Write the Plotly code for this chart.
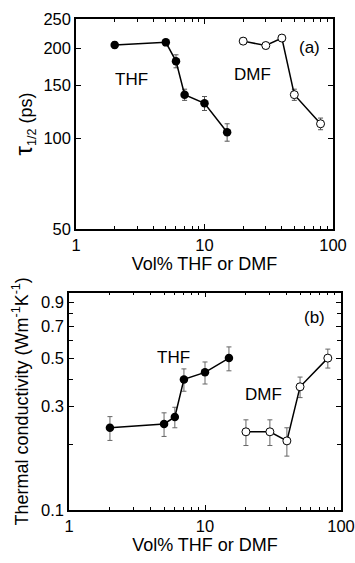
import plotly.graph_objects as go

# ---- data ----
thf_x = [2, 5, 6, 7, 10, 15]
thf_tau = [205, 209, 181, 140, 131, 105]
thf_tau_err = [5, 5, 9, 6, 7, 7]
dmf_x = [20, 30, 40, 50, 80]
dmf_tau = [211, 204, 216, 140, 112]
dmf_tau_err = [5, 5, 5, 6, 5]

thf_k = [0.239, 0.249, 0.268, 0.399, 0.43, 0.50]
thf_k_err = [0.03, 0.031, 0.029, 0.047, 0.05, 0.063]
dmf_k = [0.229, 0.229, 0.208, 0.369, 0.50]
dmf_k_err = [0.031, 0.031, 0.031, 0.04, 0.05]

x_ticks = [1, 10, 100]
x_minor = [2, 3, 4, 5, 6, 7, 8, 9, 20, 30, 40, 50, 60, 70, 80, 90]
tau_ticks = [50, 100, 150, 200, 250]
k_ticks = [0.1, 0.3, 0.5, 0.7, 0.9]
k_minor = [0.2, 0.4, 0.6, 0.8]

FONT = "Arial, Liberation Sans, sans-serif"
W, H = 355, 563

fig = go.Figure()

def err(vals, color="#555"):
    return dict(type="data", array=vals, visible=True, color=color, thickness=1, width=2.5)

filled = dict(color="black", size=8.5)
opened = dict(color="white", size=8, line=dict(color="black", width=1))
line = dict(color="black", width=1.5)

fig.add_trace(go.Scatter(x=thf_x, y=thf_tau, error_y=err(thf_tau_err), mode="lines+markers",
                         marker=filled, line=line, xaxis="x", yaxis="y", showlegend=False))
fig.add_trace(go.Scatter(x=dmf_x, y=dmf_tau, error_y=err(dmf_tau_err), mode="lines+markers",
                         marker=opened, line=line, xaxis="x", yaxis="y", showlegend=False))
fig.add_trace(go.Scatter(x=thf_x, y=thf_k, error_y=err(thf_k_err, "#666"), mode="lines+markers",
                         marker=filled, line=line, xaxis="x2", yaxis="y2", showlegend=False))
fig.add_trace(go.Scatter(x=dmf_x, y=dmf_k, error_y=err(dmf_k_err, "#666"), mode="lines+markers",
                         marker=opened, line=line, xaxis="x2", yaxis="y2", showlegend=False))

def px_x(p):
    return p / W

def px_y(p):
    return (H - p) / H

axis_common = dict(type="log", showline=True, linecolor="black", linewidth=1.5, mirror="ticks",
                   ticks="inside", ticklen=5, tickwidth=1, tickcolor="black", showgrid=False,
                   zeroline=False, automargin=False,
                   tickfont=dict(family=FONT, size=16.5, color="black"))

title_font = dict(family=FONT, size=18, color="black")

fig.update_layout(
    width=W, height=H,
    margin=dict(l=0, r=0, t=0, b=0),
    paper_bgcolor="white", plot_bgcolor="white",
    xaxis=dict(**axis_common, domain=[px_x(76), px_x(333)], range=[0, 2], anchor="y",
               tickmode="array", tickvals=x_ticks, ticktext=[str(v) for v in x_ticks],
               minor=dict(ticks="inside", ticklen=3, tickwidth=1, tickcolor="black",
                          tickmode="array", tickvals=x_minor),
               title=dict(text="Vol% THF or DMF", font=title_font, standoff=3)),
    yaxis=dict(**axis_common, domain=[px_y(229), px_y(19)], range=[1.69897, 2.39794], anchor="x",
               tickmode="array", tickvals=tau_ticks, ticktext=[str(v) for v in tau_ticks],
               title=dict(text="<span style='font-size:24px'>τ</span><sub>1/2</sub> (ps)",
                          font=title_font, standoff=6)),
    xaxis2=dict(**axis_common, domain=[px_x(69), px_x(341)], range=[0, 2], anchor="y2",
                tickmode="array", tickvals=x_ticks, ticktext=[str(v) for v in x_ticks],
                minor=dict(ticks="inside", ticklen=3, tickwidth=1, tickcolor="black",
                           tickmode="array", tickvals=x_minor),
                title=dict(text="Vol% THF or DMF", font=title_font, standoff=3)),
    yaxis2=dict(**axis_common, domain=[px_y(510), px_y(292.7)], range=[-1, 0], anchor="x2",
                tickmode="array", tickvals=k_ticks, ticktext=[str(v) for v in k_ticks],
                minor=dict(ticks="inside", ticklen=4, tickwidth=1, tickcolor="black",
                           tickmode="array", tickvals=k_minor),
                title=dict(text="Thermal conductivity (Wm<sup>-1</sup>K<sup>-1</sup>)",
                           font=title_font, standoff=8)),
)

ann_font = dict(family=FONT, size=17, color="black")
ann_common = dict(showarrow=False, font=ann_font, xanchor="center", yanchor="middle")
fig.add_annotation(text="THF", x=0.428, y=2.196, xref="x", yref="y", **ann_common)
fig.add_annotation(text="DMF", x=1.375, y=2.212, xref="x", yref="y", **ann_common)
fig.add_annotation(text="(a)", x=px_x(309.3), y=px_y(48), xref="paper", yref="paper", **ann_common)
fig.add_annotation(text="THF", x=0.765, y=-0.298, xref="x2", yref="y2", **ann_common)
fig.add_annotation(text="DMF", x=1.429, y=-0.4705, xref="x2", yref="y2", **ann_common)
fig.add_annotation(text="(b)", x=px_x(314), y=px_y(317.3), xref="paper", yref="paper", **ann_common)

fig.write_html("out.html")
